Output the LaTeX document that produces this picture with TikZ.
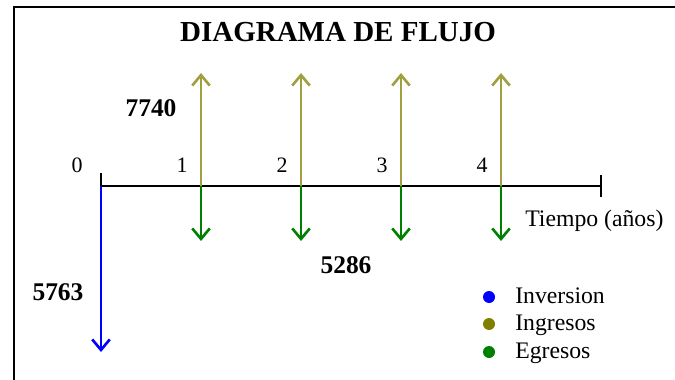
\documentclass[tikz,border=0pt]{standalone}
\usepackage{fontspec}
\setmainfont{Liberation Serif}
\usetikzlibrary{arrows.meta, positioning}
\definecolor{inversion}{RGB}{0, 0, 255}
\definecolor{ingresos}{RGB}{160, 160, 64}
\definecolor{ingresosDot}{RGB}{128, 128, 0}
\definecolor{egresos}{RGB}{0, 128, 0}

\begin{document}
\begin{tikzpicture}[x=4cm, y=4cm, line width=3pt,
  flecha/.style={-{Straight Barb[length=0.42cm, width=0.7cm]}},
  monto/.style={anchor=base, font=\fontsize{29}{34}\selectfont\bfseries},
  etiqueta/.style={anchor=base west, font=\fontsize{27}{32}\selectfont}]
  \useasboundingbox (-1.01,-1.93) rectangle (5.74,1.86);
  % frame
  \draw[line width=2.8pt] (-0.87,-1.95) -- (-0.87,1.79) -- (5.76,1.79);
  \node[anchor=base, font=\fontsize{33}{38}\selectfont\bfseries] (titulo) at (2.37,1.44) {DIAGRAMA DE FLUJO};

  % time axis
  \coordinate (t0) at (0,0);
  \coordinate (t5) at (5,0);
  \draw (t0) -- (t5);
  \draw (0,0.13) -- (t0);
  \draw (5,0.11) -- (5,-0.11);
  \node[anchor=base, font=\fontsize{25}{30}\selectfont] (n0) at (-0.24,0.14) {0};
  \foreach \k in {1,2,3,4} {
    \coordinate (t\k) at (\k,0);
    \coordinate (up\k) at (\k,1.13);
    \coordinate (dn\k) at (\k,-0.55);
    \draw[flecha, ingresos] (t\k) -- (up\k);
    \draw[flecha, egresos] (t\k) -- (dn\k);
    \node[anchor=base, font=\fontsize{25}{30}\selectfont] (n\k) at (\k-0.19,0.14) {\k};
  }
  \coordinate (inv) at (0,-1.66);
  \draw[flecha, inversion] (t0) -- (inv);
  \node[etiqueta] (tiempo) at (4.2,-0.4) {Tiempo (años)};

  % amounts
  \node[monto] (m7740) at (0.5,0.69) {7740};
  \node[monto] (m5286) at (2.45,-0.87) {5286};
  \node[monto] (m5763) at (-0.43,-1.14) {5763};

  % legend
  \foreach \c/\t/\y in {inversion/Inversion/-1.11, ingresosDot/Ingresos/-1.38, egresos/Egresos/-1.66} {
    \fill[\c] (3.88,\y) circle (0.24cm);
    \node[etiqueta] (ley\t) at (4.1,\y-0.06) {\t};
  }
\end{tikzpicture}
\end{document}
